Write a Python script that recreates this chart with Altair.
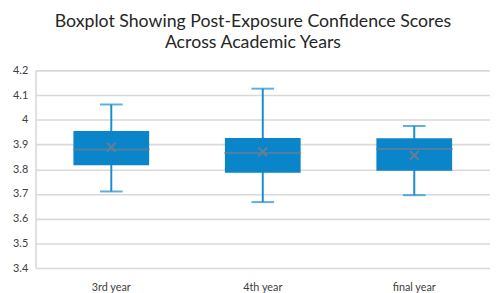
import altair as alt
import pandas as pd

years = ["3rd year", "4th year", "final year"]
whisker_low = [3.71, 3.667, 3.695]
q1 = [3.816, 3.786, 3.794]
median = [3.88, 3.866, 3.882]
mean = [3.889, 3.87, 3.856]
q3 = [3.955, 3.926, 3.925]
whisker_high = [4.062, 4.126, 3.975]
y_ticks = [3.4, 3.5, 3.6, 3.7, 3.8, 3.9, 4.0, 4.1, 4.2]

df = pd.DataFrame(dict(year=years, lo=whisker_low, q1=q1, med=median,
                       mean=mean, q3=q3, hi=whisker_high))

FONT = "Lato"
BOX = "#0A85C9"
WHISK = "#1A8DD0"
MED = "#6A7E93"

yscale = alt.Scale(domain=[3.4, 4.2], nice=False, zero=False)
yaxis = alt.Axis(title=None, values=y_ticks, format=".1~f", grid=True,
                 gridColor="#D9D9D9", gridWidth=1.6, domain=True,
                 domainColor="#D9D9D9", domainWidth=1.6, ticks=False,
                 labelPadding=8, labelFontSize=11, labelColor="#404040",
                 labelFont=FONT)

x = alt.X("year:N", sort=years,
          scale=alt.Scale(paddingInner=0, paddingOuter=0),
          axis=alt.Axis(title=None, labelAngle=0, domain=False, ticks=False,
                        grid=False, labelPadding=14, labelFontSize=11,
                        labelColor="#404040", labelFont=FONT))

base = alt.Chart(df).encode(x=x)

whisk = base.mark_rule(color=WHISK, strokeWidth=2).encode(
    y=alt.Y("lo:Q", scale=yscale, axis=yaxis), y2="hi:Q")
box = base.mark_bar(size=77, color=BOX).encode(
    y=alt.Y("q1:Q", scale=yscale, axis=yaxis), y2="q3:Q")
cap_lo = base.mark_tick(size=23, thickness=2, color=WHISK).encode(
    y=alt.Y("lo:Q", scale=yscale, axis=yaxis))
cap_hi = base.mark_tick(size=23, thickness=2, color=WHISK).encode(
    y=alt.Y("hi:Q", scale=yscale, axis=yaxis))
med = base.mark_tick(size=78, thickness=2, color=MED).encode(
    y=alt.Y("med:Q", scale=yscale, axis=yaxis))
mn = base.mark_point(shape="M-1,-1L1,1M1,-1L-1,1", size=80, strokeWidth=2,
                     color=MED, filled=False, opacity=1).encode(
    y=alt.Y("mean:Q", scale=yscale, axis=yaxis))

chart = alt.layer(whisk, box, cap_lo, cap_hi, med, mn).properties(
    width=462, height=201,
    autosize=alt.AutoSizeParams(type="none"),
    padding={"left": 28, "top": 61, "right": 0, "bottom": 28},
    title=alt.TitleParams(
        ["Boxplot Showing Post-Exposure Confidence Scores", "Across Academic Years"],
        font=FONT, fontSize=18, fontWeight="normal", color="#262626",
        lineHeight=21, anchor="middle", dx=-10, offset=13),
).configure_view(stroke=None)

chart.save("out.html", embed_options={"renderer": "svg", "actions": False})
